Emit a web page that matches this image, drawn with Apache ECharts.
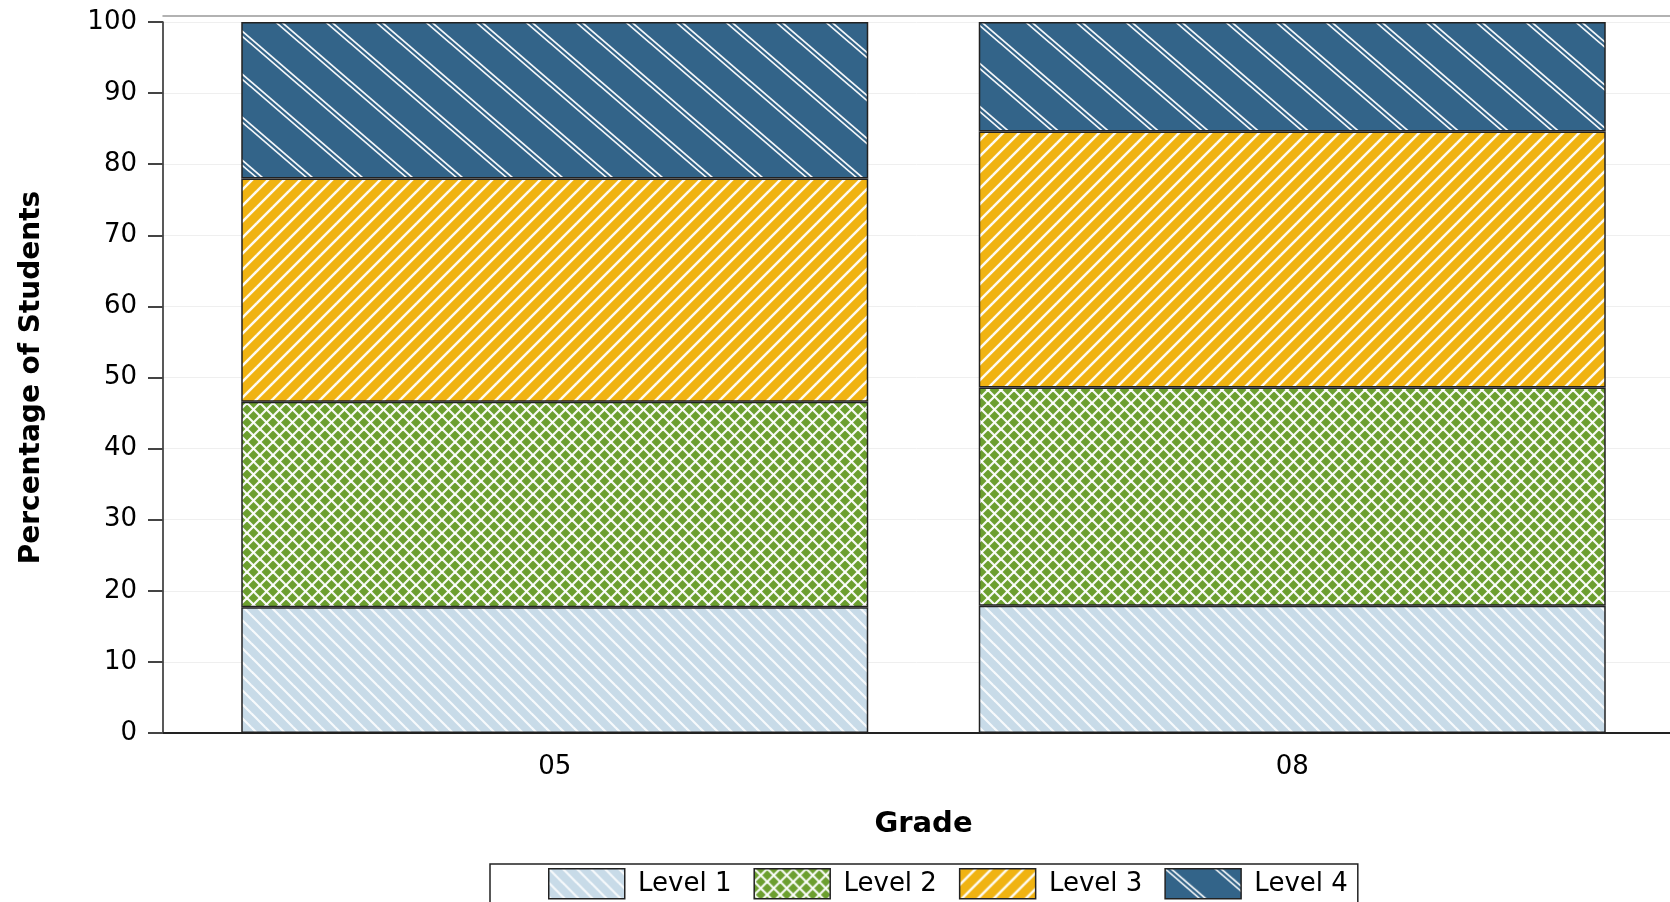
<!DOCTYPE html>
<html>
<head>
<meta charset="utf-8">
<script src="https://cdn.jsdelivr.net/npm/echarts@6/dist/echarts.min.js"></script>
<style>
html,body{margin:0;padding:0;background:#fff;}
#chart{width:1670px;height:902px;}
</style>
</head>
<body>
<div id="chart"></div>
<script>
// ---- data ----
var categories = ['05', '08'];
var seriesNames = ['Level 1', 'Level 2', 'Level 3', 'Level 4'];
var level1 = [17.7, 17.9];
var level2 = [28.9, 30.7];
var level3 = [31.4, 36.0];
var level4 = [22.0, 15.4];
var yTicks = [0, 10, 20, 30, 40, 50, 60, 70, 80, 90, 100];

// ---- pattern fills (tile w x h, lines run corner to corner) ----
function makePattern(bg, w, h, dirs, offsets, lw, alpha) {
  var c = document.createElement('canvas');
  c.width = w; c.height = h;
  var ctx = c.getContext('2d');
  ctx.fillStyle = bg;
  ctx.fillRect(0, 0, w, h);
  ctx.strokeStyle = 'rgba(255,255,255,' + alpha + ')';
  ctx.lineWidth = lw;
  ctx.lineCap = 'butt';
  var ex = 3, ey = 3 * h / w;
  dirs.forEach(function (d) {
    offsets.forEach(function (o) {
      for (var k = -1; k <= 1; k++) {
        var x0 = o + k * w;
        ctx.beginPath();
        if (d === '\\') {
          ctx.moveTo(x0 - ex, -ey);
          ctx.lineTo(x0 + w + ex, h + ey);
        } else {
          ctx.moveTo(x0 - ex, h + ey);
          ctx.lineTo(x0 + w + ex, -ey);
        }
        ctx.stroke();
      }
    });
  });
  return { image: c, repeat: 'repeat' };
}

var fills = [
  makePattern('#c8dbe8', 14, 14, ['\\'], [0], 2.2, 0.85),
  makePattern('#6c9f2f', 13, 13, ['\\', '/'], [0], 2.2, 0.95),
  makePattern('#f0b312', 16, 16, ['/'], [0], 2.5, 0.95),
  makePattern('#336489', 50, 43, ['\\'], [0, 6], 1.7, 0.95)
];
var values = [level1, level2, level3, level4];

var FONT = 'DejaVu Sans';

var chart = echarts.init(document.getElementById('chart'), null, { renderer: 'canvas' });

var series = seriesNames.map(function (n, i) {
  return {
    name: n,
    type: 'bar',
    stack: 'total',
    xAxisIndex: 0,
    yAxisIndex: 0,
    barWidth: 627,
    data: values[i],
    itemStyle: { color: fills[i], borderColor: '#222', borderWidth: 1.5 },
    emphasis: { disabled: true }
  };
});

var option = {
  backgroundColor: '#fff',
  animation: false,
  grid: [
    { left: 186, right: 9, top: 22, bottom: 169 },
    { left: 163, right: -20, top: 22, bottom: 169 }
  ],
  xAxis: [
    {
      gridIndex: 0, type: 'category', data: categories,
      axisLine: { show: false }, axisTick: { show: false },
      axisLabel: { margin: 21, fontSize: 26, fontFamily: FONT, color: '#000' },
      splitLine: { show: false },
      name: 'Grade', nameLocation: 'middle', nameGap: 77,
      nameTextStyle: { fontSize: 29, fontWeight: 'bold', fontFamily: FONT, color: '#000' }
    },
    {
      gridIndex: 1, type: 'value', min: 0, max: 1, position: 'bottom',
      axisLine: { show: true, lineStyle: { color: '#222', width: 2 } },
      axisTick: { show: false }, axisLabel: { show: false }, splitLine: { show: false }
    },
    {
      gridIndex: 1, type: 'value', min: 0, max: 1, position: 'top', offset: 6,
      axisLine: { show: true, lineStyle: { color: '#999', width: 1.5 } },
      axisTick: { show: false }, axisLabel: { show: false }, splitLine: { show: false }
    }
  ],
  yAxis: [
    { gridIndex: 0, type: 'value', min: 0, max: 100, show: false },
    {
      gridIndex: 1, type: 'value', min: yTicks[0], max: yTicks[yTicks.length - 1], interval: 10,
      axisLine: { show: true, lineStyle: { color: '#222', width: 1.5 } },
      axisTick: { show: true, length: 15, lineStyle: { color: '#444', width: 2 } },
      axisLabel: { margin: 26, fontSize: 26, fontFamily: FONT, color: '#000' },
      splitLine: { show: true, lineStyle: { color: '#efefef', width: 1 } },
      name: 'Percentage of Students', nameLocation: 'middle', nameGap: 117,
      nameTextStyle: { fontSize: 28, fontWeight: 'bold', fontFamily: FONT, color: '#000' }
    }
  ],
  legend: {
    data: seriesNames,
    left: 490, top: 864,
    orient: 'horizontal',
    padding: [4, 10, 10, 58],
    itemGap: 22,
    itemWidth: 76, itemHeight: 30,
    icon: 'rect',
    borderColor: '#222', borderWidth: 1.5,
    selectedMode: false,
    itemStyle: { borderColor: '#222', borderWidth: 1.5 },
    formatter: function (n) { return ' ' + n; },
    textStyle: { fontSize: 26, fontFamily: FONT, color: '#000' }
  },
  series: series
};

chart.setOption(option);
</script>
</body>
</html>
